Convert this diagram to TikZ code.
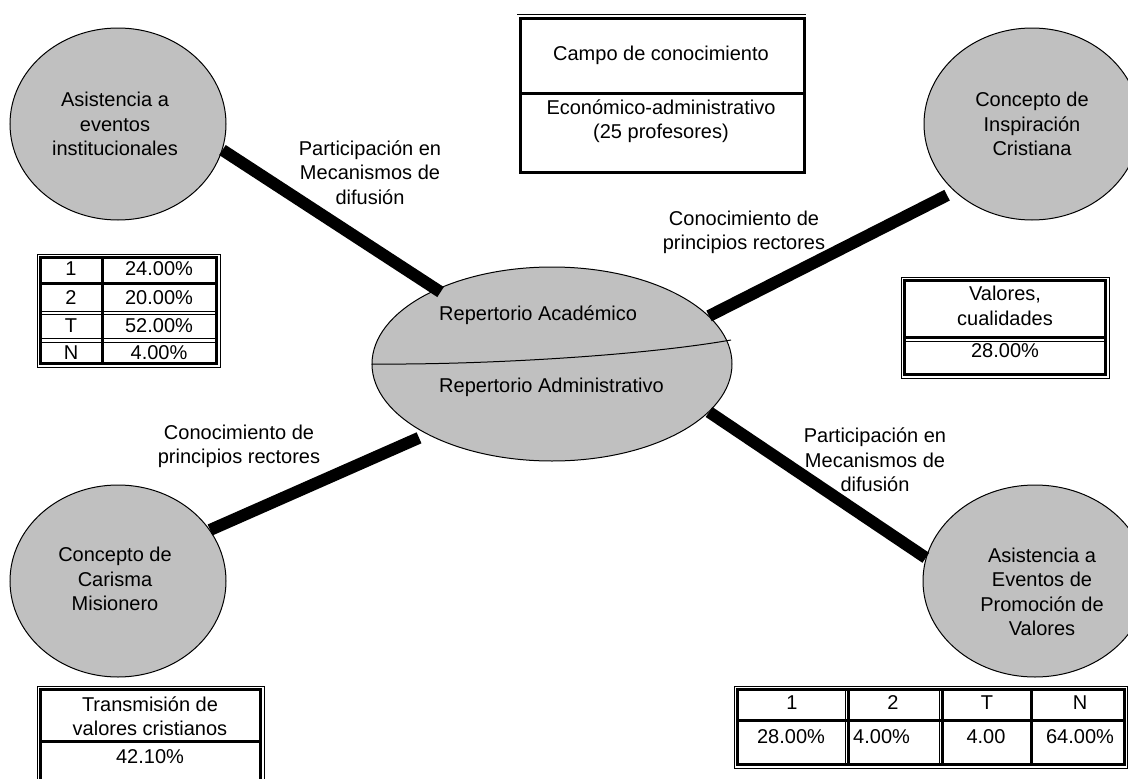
\documentclass[tikz,border=0pt]{standalone}
\usepackage{fontspec}
\setmainfont{Liberation Sans}
\usetikzlibrary{shapes.geometric}
\definecolor{bubgray}{HTML}{C0C0C0}
\begin{document}
\begin{tikzpicture}[x=1pt,y=-1pt,
  txt/.style={font=\fontsize{20}{24.5}\selectfont, align=center, inner sep=0pt},
  bub/.style={ellipse, draw=black, line width=1pt, fill=bubgray, inner sep=0pt},
  bar/.style={line width=12pt, draw=black},
  thinrule/.style={line width=0.8pt},
  thickrule/.style={line width=3pt}]
\useasboundingbox (0,0) rectangle (1128,779);
\fill[white] (0,0) rectangle (1128,779);

% bubbles
\node[bub, minimum width=216pt, minimum height=192pt] (tl) at (118,124) {};
\node[bub, minimum width=216pt, minimum height=192pt] (tr) at (1032,124) {};
\node[bub, minimum width=216pt, minimum height=192pt] (bl) at (118,581) {};
\node[bub, minimum width=224pt, minimum height=192pt] (br) at (1035,581) {};
\node[bub, minimum width=360pt, minimum height=194pt] (rep) at (552,364) {};

\node[txt] (tltext) at (115,124) {Asistencia a\\eventos\\institucionales};
\node[txt] (trtext) at (1032,124) {Concepto de\\Inspiración\\Cristiana};
\node[txt] (bltext) at (115,579) {Concepto de\\Carisma\\Misionero};
\node[txt] (brtext) at (1042,592) {Asistencia a\\Eventos de\\Promoción de\\Valores};

% central ellipse divider and texts
\coordinate (divend) at (731,340);
\draw[line width=1pt] (rep.west) .. controls (480,365) and (640,356) .. (divend);
\node[txt, anchor=west] (acad) at (439,315) {Repertorio Académico};
\node[txt, anchor=west] (admin) at (439,387) {Repertorio Administrativo};

% connector labels
\node[txt] (l1) at (370,172.5) {Participación en\\Mecanismos de\\difusión};
\node[txt] (l2) at (744,232.5) {Conocimiento de\\principios rectores};
\node[txt] (l3) at (239,446.5) {Conocimiento de\\principios rectores};
\node[txt] (l4) at (875,460) {Participación en\\Mecanismos de\\difusión};

% thick connectors
\draw[bar] (tl.-14) -- ([shift={(4,3)}]rep.147);
\draw[bar] ([shift={(-6,5)}]tr.220) -- (rep.17);
\draw[bar] (bl.29) -- ([shift={(-7,4)}]rep.209);
\draw[bar] (rep.-17) -- (br.168);

% top box
\draw[thinrule] (517,14.5) -- (806,14.5);
\draw[thickrule] (520,18) rectangle (804,172);
\draw[thickrule] (520,93) -- (804,93);
\node[txt] (cb1) at (661,55) {Campo de conocimiento};
\node[txt] (cb2) at (661,121) {Económico-administrativo\\(25 profesores)};

% left table
\draw[thinrule] (37,254) rectangle (220,367);
\draw[thickrule] (40.5,257.5) rectangle (216.5,363.5);
\draw[thickrule] (40.5,283) -- (216.5,283);
\draw[thinrule] (40.5,311) -- (216.5,311);
\draw[thinrule] (40.5,314.5) -- (216.5,314.5);
\draw[thinrule] (40.5,338.5) -- (216.5,338.5);
\draw[thinrule] (40.5,342) -- (216.5,342);
\draw[thickrule] (102,257.5) -- (102,363.5);
\node[txt] (lt1a) at (71,269) {1};
\node[txt] (lt1b) at (159,269) {24.00\%};
\node[txt] (lt2a) at (71,297.5) {2};
\node[txt] (lt2b) at (159,297.5) {20.00\%};
\node[txt] (lt3a) at (71,326) {T};
\node[txt] (lt3b) at (159,326) {52.00\%};
\node[txt] (lt4a) at (71,352.5) {N};
\node[txt] (lt4b) at (159,352.5) {4.00\%};

% right table
\draw[thinrule] (901,277) rectangle (1109,378);
\draw[thickrule] (904.5,280.5) rectangle (1105.5,374.5);
\draw[thickrule] (904.5,337) -- (1105.5,337);
\draw[thinrule] (904.5,341) -- (1105.5,341);
\node[txt] (rt1) at (1005,306) {Valores,\\cualidades};
\node[txt] (rt2) at (1005,351) {28.00\%};

% bottom-left table
\draw[thinrule] (37,686) rectangle (264,800);
\draw[thickrule] (40.5,689.5) rectangle (260.5,800);
\draw[thickrule] (40.5,741) -- (260.5,741);
\node[txt] (bt1) at (150,716) {Transmisión de\\valores cristianos};
\node[txt] (bt2) at (150,757) {42.10\%};

% bottom-right table
\draw[thinrule] (734,686) rectangle (1127.5,768);
\draw[thickrule] (737.5,689.5) rectangle (1124.5,764.5);
\draw[thickrule] (737.5,720) -- (1124.5,720);
\draw[thinrule] (845,689.5) -- (845,764.5);
\draw[thickrule] (848.5,689.5) -- (848.5,764.5);
\draw[thinrule] (939,689.5) -- (939,764.5);
\draw[thickrule] (942.5,689.5) -- (942.5,764.5);
\draw[thickrule] (1031,689.5) -- (1031,764.5);
\node[txt] (h1) at (792,703) {1};
\node[txt] (h2) at (893,703) {2};
\node[txt] (h3) at (987,703) {T};
\node[txt] (h4) at (1080,703) {N};
\node[txt] (v1) at (791,737) {28.00\%};
\node[txt, anchor=west] (v2) at (853,737) {4.00\%};
\node[txt] (v3) at (986,737) {4.00};
\node[txt] (v4) at (1080,737) {64.00\%};
\end{tikzpicture}
\end{document}
